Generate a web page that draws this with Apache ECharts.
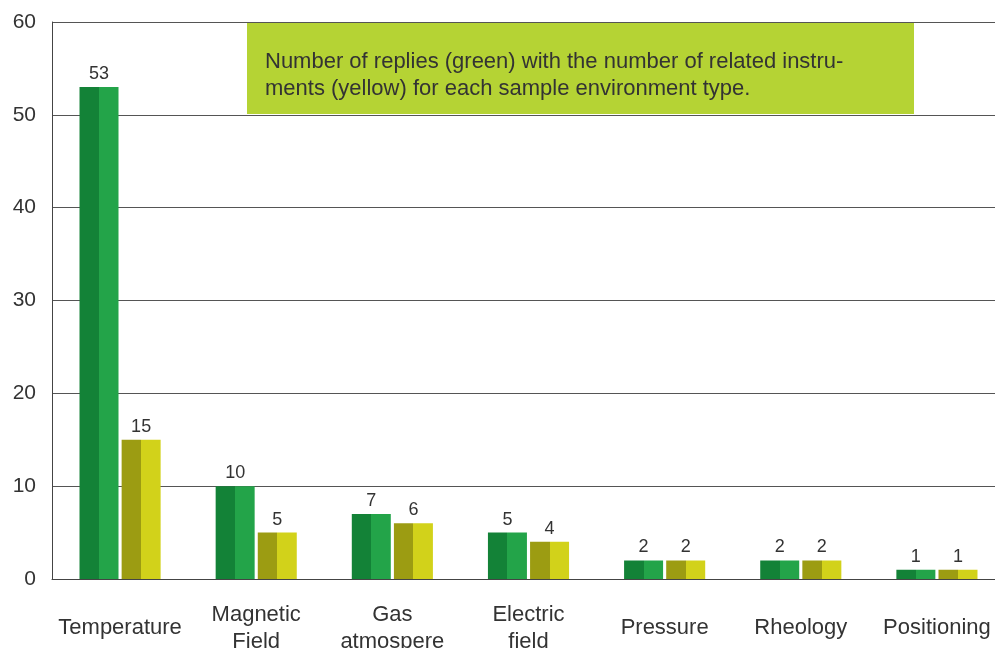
<!DOCTYPE html>
<html>
<head>
<meta charset="utf-8">
<script src="https://cdn.jsdelivr.net/npm/echarts@6/dist/echarts.min.js"></script>
<style>
	html, body { margin: 0; padding: 0; background: #fff; }
	#main { width: 995px; height: 648px; }
</style>
</head>
<body>
<div id="main"></div>
<script>
// Données
var categories = ['Temperature', 'Magnetic\nField', 'Gas\natmospere', 'Electric\nfield', 'Pressure', 'Rheology', 'Positioning'];
var replies = [53, 10, 7, 5, 2, 2, 1];
var instruments = [15, 5, 6, 4, 2, 2, 1];
var noteLines = ['Number of replies (green) with the number of related instru-', 'ments (yellow) for each sample environment type.'];

var fontName = '"Liberation Sans", Arial, sans-serif';

// Barre en deux tons (moitié gauche foncée, moitié droite claire)
function twoTone(dark, light) {
	return new echarts.graphic.LinearGradient(0, 0, 1, 0, [
		{ offset: 0, color: dark },
		{ offset: 0.5, color: dark },
		{ offset: 0.5, color: light },
		{ offset: 1, color: light }
	]);
}

var myChart = echarts.init(document.getElementById('main'));

var option = {
	animation: false,
	grid: {
		left: 52,
		top: 22,
		width: 953,
		height: 557,
		outerBoundsMode: 'none'
	},
	graphic: [{
		type: 'rect',
		z: 0,
		shape: { x: 247, y: 23, width: 667, height: 91 },
		style: { fill: '#b5d334' }
	}, {
		type: 'text',
		z: 1,
		left: 265,
		top: 48,
		style: {
			text: noteLines.join('\n'),
			font: '22px ' + fontName,
			lineHeight: 27,
			fill: '#333'
		}
	}],
	xAxis: {
		type: 'category',
		data: categories,
		axisLine: { lineStyle: { color: '#444', width: 1 } },
		axisTick: { show: false },
		axisLabel: {
			color: '#333',
			fontSize: 22,
			fontFamily: fontName,
			lineHeight: 27,
			verticalAlign: 'middle',
			margin: 49,
			interval: 0
		}
	},
	yAxis: {
		type: 'value',
		min: 0,
		max: 60,
		interval: 10,
		axisLine: { show: true, lineStyle: { color: '#444', width: 1 } },
		splitLine: { lineStyle: { color: '#555', width: 1 } },
		axisLabel: {
			color: '#333',
			fontSize: 21,
			fontFamily: fontName,
			margin: 16
		}
	},
	series: [{
		name: 'Replies',
		type: 'bar',
		z: 3,
		data: replies,
		barWidth: 39,
		barGap: '8%',
		itemStyle: { color: twoTone('#138237', '#23a449') },
		label: {
			show: true,
			position: 'top',
			distance: 4,
			color: '#333',
			fontSize: 18,
			fontFamily: fontName
		}
	}, {
		name: 'Instruments',
		type: 'bar',
		z: 3,
		data: instruments,
		barWidth: 39,
		barGap: '8%',
		itemStyle: { color: twoTone('#9c9c12', '#d2d21a') },
		label: {
			show: true,
			position: 'top',
			distance: 4,
			color: '#333',
			fontSize: 18,
			fontFamily: fontName
		}
	}]
};

myChart.setOption(option);
</script>
</body>
</html>
